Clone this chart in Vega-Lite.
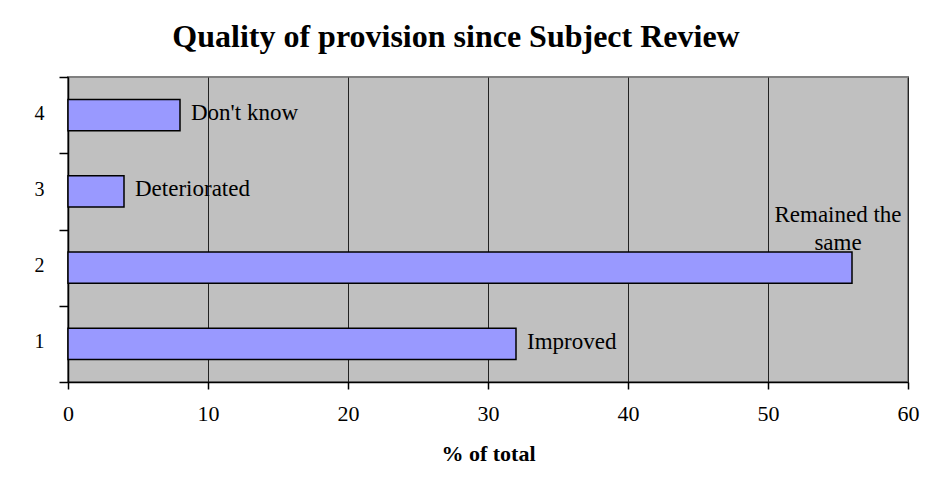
{
  "$schema": "https://vega.github.io/schema/vega-lite/v6.json",
  "width": 840,
  "height": 305,
  "autosize": {"type": "none"},
  "padding": {"left": 68, "top": 77, "right": 24, "bottom": 104},
  "background": "white",
  "title": {
    "text": "Quality of provision since Subject Review",
    "font": "Liberation Serif",
    "fontSize": 32,
    "fontWeight": "bold",
    "color": "black",
    "anchor": "middle",
    "frame": "group",
    "dx": -32,
    "baseline": "alphabetic",
    "offset": -12
  },
  "data": {
    "values": [
      {"category": "1", "pct": 32, "label": "Improved"},
      {"category": "2", "pct": 56, "label": "Remained the\nsame"},
      {"category": "3", "pct": 4, "label": "Deteriorated"},
      {"category": "4", "pct": 8, "label": "Don't know"}
    ]
  },
  "encoding": {
    "y": {
      "field": "category",
      "type": "ordinal",
      "sort": "descending",
      "scale": {"paddingInner": 0, "paddingOuter": 0},
      "axis": {
        "title": null,
        "tickBand": "extent",
        "grid": false,
        "domainColor": "black",
        "domainWidth": 1.5,
        "tickColor": "black",
        "tickWidth": 1.5,
        "tickSize": 9,
        "labelPadding": 15,
        "labelOffset": -2,
        "labelFont": "Liberation Serif",
        "labelFontSize": 20,
        "labelColor": "black",
        "labelAngle": 0
      }
    },
    "x": {
      "field": "pct",
      "type": "quantitative",
      "scale": {"domain": [0, 60], "nice": false},
      "axis": {
        "title": "% of total",
        "values": [0, 10, 20, 30, 40, 50, 60],
        "grid": true,
        "gridColor": "#222222",
        "gridWidth": 1,
        "domainColor": "black",
        "domainWidth": 1.5,
        "tickColor": "black",
        "tickWidth": 1.5,
        "tickSize": 7,
        "labelPadding": 31,
        "labelBaseline": "alphabetic",
        "labelFont": "Liberation Serif",
        "labelFontSize": 22,
        "labelColor": "black",
        "labelFlush": false,
        "titleFont": "Liberation Serif",
        "titleFontSize": 22,
        "titleFontWeight": "bold",
        "titleColor": "black",
        "titleBaseline": "alphabetic",
        "titleY": 78
      }
    }
  },
  "layer": [
    {
      "mark": {
        "type": "bar",
        "height": {"band": 0.407},
        "fill": "#9999FF",
        "stroke": "black",
        "strokeWidth": 1.5
      }
    },
    {
      "transform": [{"filter": "datum.category != '2'"}],
      "mark": {
        "type": "text",
        "align": "left",
        "baseline": "middle",
        "dx": 11,
        "dy": -2,
        "font": "Liberation Serif",
        "fontSize": 23,
        "color": "black"
      },
      "encoding": {"text": {"field": "label"}}
    },
    {
      "transform": [{"filter": "datum.category == '2'"}],
      "mark": {
        "type": "text",
        "align": "center",
        "baseline": "top",
        "dx": -14,
        "dy": -64,
        "lineBreak": "\n",
        "lineHeight": 28,
        "font": "Liberation Serif",
        "fontSize": 23,
        "color": "black"
      },
      "encoding": {"text": {"field": "label"}}
    }
  ],
  "config": {
    "view": {"fill": "#C0C0C0", "stroke": "#808080", "strokeWidth": 2}
  }
}
